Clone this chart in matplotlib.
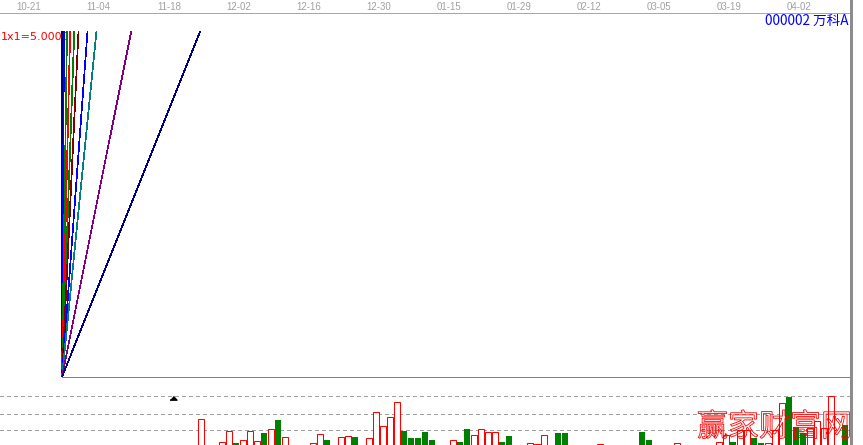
import matplotlib
matplotlib.use('Agg')
import matplotlib.pyplot as plt
from matplotlib.lines import Line2D
from matplotlib.patches import PathPatch
from matplotlib.textpath import TextPath
from matplotlib.font_manager import FontProperties
import matplotlib.transforms as mtransforms

# ---------------- data ----------------
date_labels = ['10-21', '11-04', '11-18', '12-02', '12-16', '12-30',
               '01-15', '01-29', '02-12', '03-05', '03-19', '04-02']
date_label_bars = [3.4, 13.4, 23.4, 33.4, 43.4, 53.4,
                   63.4, 73.4, 83.4, 93.4, 103.4, 113.4]

# Gann fan: origin bar and bar index where each ray reaches the top of the panel
fan_origin_bar = 8.14
fan_end_bars = [8.19, 8.43, 8.86, 9.31, 9.90, 10.50, 11.79, 13.07, 18.04, 27.90]
fan_colors = ['#000080', '#0000FF', '#008000', '#FF0000', '#008000',
              '#800000', '#0000FF', '#008080', '#800080', '#000080']
fan_label = '1x1=5.0000'

stock_title = '000002 万科A'

vol_index = [28, 31, 32, 33, 34, 35, 36, 37, 38, 39, 40, 44, 45, 46, 48, 49, 50,
             52, 53, 54, 55, 56, 57, 58, 59, 60, 61, 64, 65, 66, 67, 68, 69, 70,
             71, 72, 75, 76, 77, 79, 80, 85, 91, 92, 96, 102, 103, 104, 105, 106,
             107, 108, 109, 110, 111, 112, 113, 114, 115, 116, 117, 118, 120]
vol_values = [29, 6, 17, 5, 8, 17, 7, 15, 19, 28, 11, 5, 14, 8, 11, 12, 11,
              10, 36, 22, 31, 46, 17, 10, 10, 16, 8, 8, 6, 19, 13, 19, 16, 16,
              6, 12, 5, 4, 13, 15, 15, 4, 16, 8, 5, 6, 13, 6, 18, 18,
              10, 5, 5, 18, 45, 51, 21, 15, 20, 27, 20, 52, 23]
vol_up = ['r', 'r', 'r', 'g', 'r', 'r', 'r', 'g', 'r', 'g', 'r', 'r', 'r', 'g', 'r', 'r', 'g',
          'r', 'r', 'r', 'r', 'r', 'g', 'g', 'g', 'g', 'g', 'r', 'g', 'g', 'r', 'r', 'r', 'r',
          'g', 'g', 'r', 'r', 'r', 'g', 'g', 'r', 'g', 'g', 'r', 'r', 'r', 'g', 'r', 'r',
          'g', 'g', 'r', 'r', 'r', 'g', 'g', 'g', 'r', 'r', 'r', 'r', 'g']
vol_grid = [18, 34, 52]
marker_bar = 24
watermark = '赢家财富网'

# ---------------- layout helpers ----------------
W, H, DPI = 863, 445, 100
BAR0_PX, BAR_PX = 5.0, 7.0
RIGHT_PX = 850


def fx(px):
    return px / W


def fy(py):
    return 1 - py / H


def bar_px(b):
    return BAR0_PX + BAR_PX * b


xlim = ((0 - BAR0_PX) / BAR_PX, (RIGHT_PX - BAR0_PX) / BAR_PX)

plt.rcParams['lines.scale_dashes'] = False
fig = plt.figure(figsize=(W / DPI, H / DPI), dpi=DPI)
fig.patch.set_facecolor('white')

# ---------------- main (fan) panel ----------------
top_px, bot_px = 31, 377
ax = fig.add_axes([0, fy(bot_px), fx(RIGHT_PX), (bot_px - top_px) / H])
ax.set_xlim(*xlim)
ax.set_ylim(0, 1)
ax.axis('off')

for end, c in zip(fan_end_bars, fan_colors):
    ax.plot([fan_origin_bar, end], [0, 1], color=c, lw=0.5,
            antialiased=False, zorder=3)
ax.plot([fan_origin_bar, xlim[1]], [0, 0], color='#808080', lw=0.6,
        antialiased=False, clip_on=False, zorder=2)

ax.text(fx(1), fy(37), fan_label, transform=fig.transFigure, ha='left',
        va='center', fontsize=8.0, color='#FF0000', zorder=1,
        family='DejaVu Sans')

# header: dates + title
for lab, b in zip(date_labels, date_label_bars):
    fig.text(fx(bar_px(b)), fy(6.5), lab, ha='center', va='center',
             fontsize=6.9, color='#a0a0a0', family='Liberation Sans')
fig.add_artist(Line2D([0, fx(849)], [fy(12.5), fy(12.5)], color='#a8a8a8',
                      lw=0.6, antialiased=False))
fig.text(fx(848), fy(20.5), stock_title, ha='right', va='center',
         fontsize=9.8, color='#0000FF',
         family=['Noto Sans CJK SC', 'DejaVu Sans'])

# right border
fig.add_artist(Line2D([fx(850.5), fx(850.5)], [0, 1], color='#8c8c8c',
                      lw=1.8, antialiased=False))

# ---------------- volume panel ----------------
axv = fig.add_axes([0, 0, fx(RIGHT_PX), (445 - 378) / H])
axv.set_xlim(*xlim)
axv.set_ylim(3, 70)
axv.axis('off')

for lv in vol_grid:
    axv.axhline(lv, color='#a0a0a0', lw=0.6, ls=(0, (2.2, 2.2)),
                antialiased=False, zorder=1)

g_idx = [i for i, u in zip(vol_index, vol_up) if u == 'g']
g_val = [v for v, u in zip(vol_values, vol_up) if u == 'g']
r_idx = [i for i, u in zip(vol_index, vol_up) if u == 'r']
r_val = [v for v, u in zip(vol_values, vol_up) if u == 'r']
axv.bar(g_idx, g_val, width=0.86, color='#008000', antialiased=False, zorder=2)
axv.bar(r_idx, r_val, width=0.72, facecolor='white', edgecolor='#FF0000',
        lw=0.75, antialiased=True, zorder=2)

axv.plot([marker_bar], [vol_grid[-1]], linestyle='none',
         marker=[(-1, -1.05), (1, -1.05), (0, 0)], markersize=5.3,
         color='black', zorder=4)

# watermark (outlined text)
wm_path = TextPath((0, 0), watermark, size=31,
                   prop=FontProperties(family='Noto Sans CJK SC'))
fig.add_artist(PathPatch(wm_path, facecolor='none', edgecolor='#FF0000',
                         lw=0.6, zorder=10,
                         transform=mtransforms.Affine2D().translate(697, 9)))

fig.savefig('out.png', dpi=DPI, facecolor='white')
